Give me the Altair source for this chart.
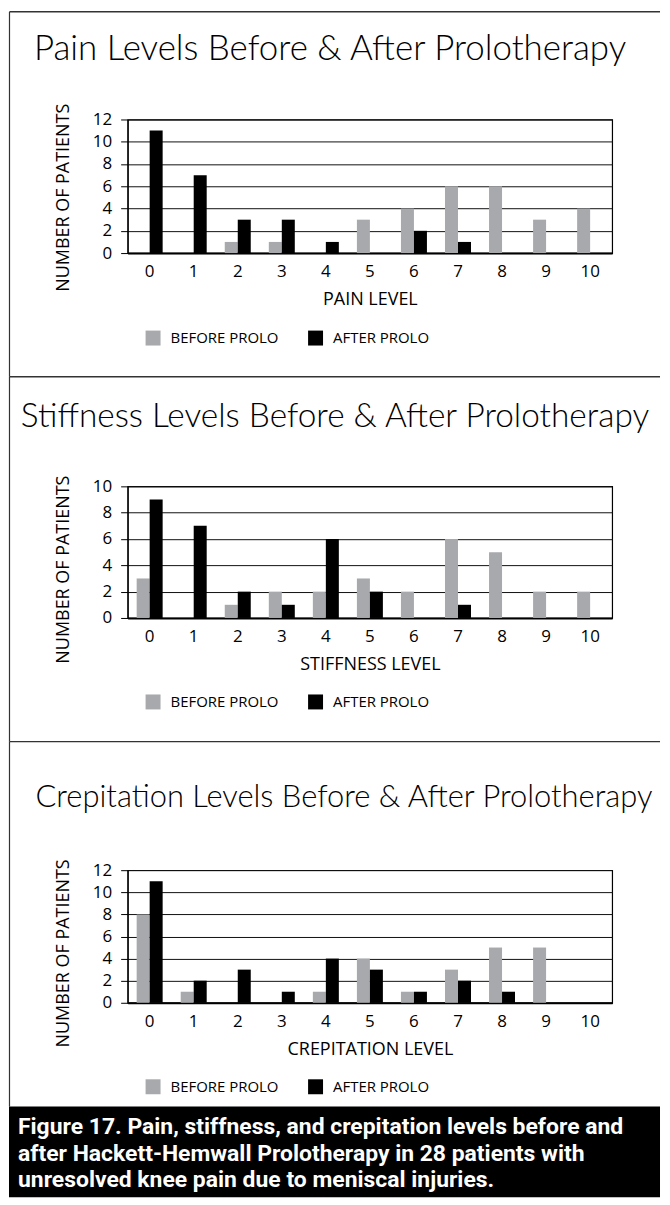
import altair as alt
import pandas as pd

levels = list(range(11))
series_names = ["BEFORE PROLO", "AFTER PROLO"]
series_colors = ["#a7a9ac", "#000000"]

pain_before = [0, 0, 1, 1, 0, 3, 4, 6, 6, 3, 4]
pain_after = [11, 7, 3, 3, 1, 0, 2, 1, 0, 0, 0]
stiff_before = [3, 0, 1, 2, 2, 3, 2, 6, 5, 2, 2]
stiff_after = [9, 7, 2, 1, 6, 2, 0, 1, 0, 0, 0]
crep_before = [8, 1, 0, 0, 1, 4, 1, 3, 5, 5, 0]
crep_after = [11, 2, 3, 1, 4, 3, 1, 2, 1, 0, 0]

titles = [
    "Pain Levels Before & After Prolotherapy",
    "Stiffness Levels Before & After Prolotherapy",
    "Crepitation Levels Before & After Prolotherapy",
]
x_titles = ["PAIN LEVEL", "STIFFNESS LEVEL", "CREPITATION LEVEL"]
y_title = "NUMBER OF PATIENTS"
y_max = [12, 10, 12]
caption_lines = [
    "Figure 17. Pain, stiffness, and crepitation levels before and",
    "after Hackett-Hemwall Prolotherapy in 28 patients with",
    "unresolved knee pain due to meniscal injuries.",
]

FONT = "Open Sans"
TITLE_FONT = "Lato"
CAPTION_FONT = "Roboto"
W = 486
FRAME = "#333333"
RIGHT = 534


def panel(before, after, title, xtitle, ymax, height, top_local, bottom_local,
          title_xy, title_size, legend_y, ytitle_y):
    df = pd.DataFrame({
        "level": levels * 2,
        "series": [series_names[0]] * len(levels) + [series_names[1]] * len(levels),
        "count": before + after,
    })
    bars = alt.Chart(df).mark_bar().encode(
        x=alt.X("level:O",
                scale=alt.Scale(paddingInner=0.41, paddingOuter=0.205),
                axis=alt.Axis(title=xtitle, labelAngle=0, ticks=False,
                              labelFontSize=17, labelPadding=11,
                              titleFontSize=18, titleFontWeight="normal",
                              titlePadding=11, domainColor="black",
                              domainWidth=2, grid=False)),
        xOffset=alt.XOffset("series:N", sort=series_names,
                            scale=alt.Scale(domain=series_names)),
        y=alt.Y("count:Q", scale=alt.Scale(domain=[0, ymax], nice=False),
                axis=alt.Axis(title=y_title, values=list(range(0, ymax + 1, 2)),
                              grid=True, gridColor="#111111", gridWidth=1,
                              tickColor="black", tickSize=7, labelFontSize=17,
                              labelPadding=9, domainColor="black", domainWidth=1.2,
                              titleFontSize=18, titleFontWeight="normal",
                              titleX=-55, titleY=ytitle_y)),
        color=alt.Color("series:N",
                        scale=alt.Scale(domain=series_names, range=series_colors),
                        legend=alt.Legend(orient="none", legendX=18, legendY=legend_y,
                                          direction="horizontal", title=None,
                                          symbolType="square", symbolSize=225,
                                          symbolStrokeWidth=0, labelFontSize=15,
                                          labelOffset=10, columnPadding=29,
                                          padding=0, labelFont=FONT,
                                          labelColor="black")),
    )
    one = pd.DataFrame({"t": [title]})
    ttl = alt.Chart(one).mark_text(font=TITLE_FONT, fontSize=title_size, fontWeight=300,
                                   color="black", align="center",
                                   baseline="middle").encode(
        text="t:N", x=alt.value(title_xy[0]), y=alt.value(title_xy[1]))
    top_rule = alt.Chart(one).mark_rule(color=FRAME, strokeWidth=1.4).encode(
        x=alt.value(-118.5), x2=alt.value(RIGHT), y=alt.value(top_local))
    left_rule = alt.Chart(one).mark_rule(color=FRAME, strokeWidth=1.2).encode(
        x=alt.value(-118.5), y=alt.value(top_local), y2=alt.value(bottom_local))
    return alt.layer(top_rule, left_rule, bars, ttl).properties(width=W, height=height)


def spacer(h):
    return alt.Chart(pd.DataFrame({"s": [0]})).mark_point(opacity=0).encode(
        x=alt.value(0), y=alt.value(0)
    ).properties(width=W, height=h, view=alt.ViewBackground(stroke="transparent"))


p1 = panel(pain_before, pain_after, titles[0], x_titles[0], y_max[0], 134,
           -108, 258, (203, -71), 35, 211.5, 78)
p2 = panel(stiff_before, stiff_after, titles[1], x_titles[1], y_max[1], 132,
           -110, 256, (208, -70), 33.5, 208.5, 83)
p3 = panel(crep_before, crep_after, titles[2], x_titles[2], y_max[2], 133,
           -129, 237, (217, -72), 31, 209.5, 83)

cap_df = pd.DataFrame({"c": [0]})
cap_box = alt.Chart(cap_df).mark_rect(color="black").encode(
    x=alt.value(-119), x2=alt.value(RIGHT), y=alt.value(0), y2=alt.value(91))
cap_text = alt.Chart(cap_df).mark_text(
    text=caption_lines, font=CAPTION_FONT, fontSize=23, fontWeight="bold",
    color="white", align="left", baseline="middle", lineHeight=26.5).encode(
    x=alt.value(-110), y=alt.value(21))
caption = alt.layer(cap_box, cap_text).properties(
    width=W, height=91, view=alt.ViewBackground(stroke="transparent"))

chart = alt.vconcat(p1, spacer(234), p2, spacer(253), p3, spacer(104), caption,
                    spacing=0, bounds="flush").resolve_scale(
    color="independent").resolve_legend(color="independent").properties(
    padding=0, background="white"
).configure_view(stroke="black", strokeWidth=1.2).configure_axis(
    labelFont=FONT, titleFont=FONT, labelColor="black", titleColor="black"
)

chart.save("out.html", embed_options={"renderer": "svg", "actions": False})
